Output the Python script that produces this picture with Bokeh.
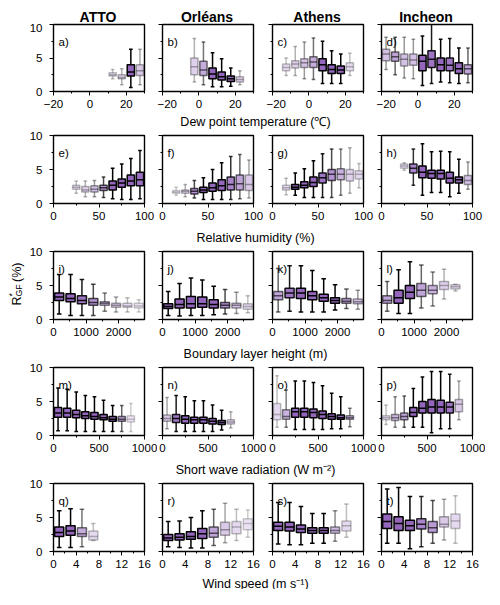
import numpy as np
from bokeh.plotting import figure
from bokeh.models import ColumnDataSource, Range1d, FixedTicker, Label
from bokeh.layouts import column, row
from bokeh.embed import file_html
from bokeh.resources import INLINE

STATIONS = ["ATTO", "Orléans", "Athens", "Incheon"]
XTITLES = ["Dew point temperature (\u2103)", "Relative humidity (%)",
           "Boundary layer height (m)", "Short wave radiation (W m\u207b\u00b2)",
           "Wind speed (m s\u207b\u00b9)"]
ROW_XRANGE = [(-20, 30), (0, 100), (0, 2800), (0, 1000), (0, 16)]
ROW_BIN = [5, 10, 350, 100, 2]
ROW_TICKS = [[-20, 0, 20], [0, 50, 100], [0, 1000, 2000], [0, 500, 1000], [0, 4, 8, 12, 16]]
ROW_MINOR = [[-10, 10, 30], [25, 75], [500, 1500, 2500], [250, 750], [2, 6, 10, 14]]
Y_TICKS = [0, 5, 10]
Y_MINOR = [2.5, 7.5]

# ---- Row 1: dew point temperature ----
a_x = [12.5, 17.5, 22.5, 27.5]
a_lo = [1.9, 1.0, 0.6, 1.0]
a_q1 = [2.3, 1.9, 2.3, 2.4]
a_med = [2.5, 2.1, 2.9, 3.1]
a_q3 = [2.8, 2.5, 4.0, 4.0]
a_hi = [3.3, 3.4, 6.3, 6.3]
a_alpha = [0.25, 0.3, 1.0, 0.35]

b_x = [-2.5, 2.5, 7.5, 12.5, 17.5, 22.5]
b_lo = [1.4, 1.0, 0.7, 0.7, 0.8, 1.0]
b_q1 = [2.5, 2.4, 1.9, 1.7, 1.5, 1.4]
b_med = [3.7, 3.2, 2.6, 2.2, 1.9, 1.8]
b_q3 = [5.0, 4.5, 3.5, 2.9, 2.3, 2.2]
b_hi = [7.9, 7.4, 5.8, 4.9, 3.5, 3.1]
b_alpha = [0.3, 0.55, 1.0, 1.0, 1.0, 0.3]

c_x = [-12.5, -7.5, -2.5, 2.5, 7.5, 12.5, 17.5, 22.5]
c_lo = [2.4, 2.4, 1.9, 1.8, 1.2, 1.2, 1.2, 2.4]
c_q1 = [3.1, 3.5, 3.6, 3.6, 3.1, 2.7, 2.7, 3.1]
c_med = [3.6, 4.1, 4.3, 4.4, 4.0, 3.3, 3.2, 3.7]
c_q3 = [4.1, 4.6, 4.9, 5.2, 4.9, 4.0, 3.8, 4.3]
c_hi = [5.0, 6.7, 7.4, 8.0, 7.5, 6.1, 5.6, 5.7]
c_alpha = [0.25, 0.3, 0.4, 0.55, 1.0, 1.0, 1.0, 0.25]

d_x = [-17.5, -12.5, -7.5, -2.5, 2.5, 7.5, 12.5, 17.5, 22.5, 27.5]
d_lo = [3.3, 2.5, 2.0, 1.9, 0.9, 1.2, 1.4, 1.3, 1.2, 1.3]
d_q1 = [4.6, 4.5, 3.8, 3.9, 3.1, 3.6, 3.1, 3.1, 2.7, 2.6]
d_med = [5.6, 5.2, 4.8, 4.7, 4.5, 4.8, 4.0, 3.9, 3.4, 3.4]
d_q3 = [6.3, 5.9, 5.6, 5.6, 5.4, 6.1, 5.0, 5.0, 4.3, 4.0]
d_hi = [8.1, 8.1, 8.1, 7.8, 8.3, 10.5, 7.8, 7.9, 6.5, 6.5]
d_alpha = [0.4, 0.6, 0.4, 0.4, 1.0, 0.9, 1.0, 0.9, 1.0, 0.6]

# ---- Row 2: relative humidity ----
e_x = [25, 35, 45, 55, 65, 75, 85, 95]
e_lo = [1.5, 1.0, 1.0, 0.9, 0.7, 0.6, 0.6, 0.7]
e_q1 = [2.1, 1.7, 1.7, 1.9, 2.0, 2.4, 2.6, 2.6]
e_med = [2.4, 2.0, 2.1, 2.3, 2.7, 3.0, 3.3, 3.5]
e_q3 = [2.7, 2.5, 2.6, 2.7, 3.3, 3.6, 4.2, 4.6]
e_hi = [3.3, 3.3, 3.4, 3.9, 5.2, 5.8, 6.6, 7.8]
e_alpha = [0.25, 0.3, 0.4, 0.7, 1.0, 1.0, 1.0, 0.95]

f_x = [15, 25, 35, 45, 55, 65, 75, 85, 95]
f_lo = [1.2, 1.0, 0.8, 0.6, 0.6, 0.6, 0.6, 0.7, 0.8]
f_q1 = [1.5, 1.5, 1.4, 1.6, 1.8, 1.9, 2.0, 2.0, 1.9]
f_med = [1.7, 1.8, 1.8, 2.0, 2.3, 2.6, 2.8, 2.9, 2.8]
f_q3 = [1.9, 2.0, 2.2, 2.4, 3.0, 3.5, 3.9, 4.2, 4.2]
f_hi = [2.4, 2.8, 3.4, 3.8, 5.0, 6.0, 6.9, 7.2, 6.4]
f_alpha = [0.2, 0.3, 0.7, 1.0, 1.0, 1.0, 0.8, 0.6, 0.35]

g_x = [15, 25, 35, 45, 55, 65, 75, 85, 95]
g_lo = [1.3, 1.2, 0.9, 0.9, 0.9, 0.9, 1.2, 1.5, 2.3]
g_q1 = [2.0, 2.1, 2.3, 2.5, 3.0, 3.4, 3.5, 3.3, 3.6]
g_med = [2.3, 2.4, 2.7, 3.1, 3.8, 4.3, 4.3, 4.3, 4.3]
g_q3 = [2.7, 2.8, 3.2, 3.9, 4.5, 5.0, 5.1, 5.0, 4.8]
g_hi = [3.7, 4.5, 5.1, 6.3, 7.3, 8.0, 8.0, 8.2, 5.9]
g_alpha = [0.25, 1.0, 1.0, 1.0, 0.9, 0.7, 0.5, 0.3, 0.25]

h_x = [25, 35, 45, 55, 65, 75, 85, 95]
h_lo = [4.9, 2.7, 1.2, 1.6, 1.6, 1.0, 1.5, 2.1]
h_q1 = [5.2, 4.5, 3.8, 3.7, 3.6, 3.0, 3.0, 2.8]
h_med = [5.5, 5.2, 4.6, 4.4, 4.4, 3.7, 3.5, 3.4]
h_q3 = [5.8, 5.8, 5.5, 4.9, 4.9, 4.6, 3.9, 4.1]
h_hi = [6.0, 8.0, 8.8, 7.6, 7.7, 7.6, 6.5, 6.1]
h_alpha = [0.25, 0.8, 1.0, 1.0, 1.0, 1.0, 1.0, 0.4]

# ---- Row 3: boundary layer height ----
i_x = [175, 525, 875, 1225, 1575, 1925, 2275, 2625]
i_lo = [0.8, 0.6, 0.6, 0.6, 1.2, 1.1, 1.1, 1.1]
i_q1 = [2.8, 2.6, 2.3, 2.1, 2.1, 1.8, 1.8, 1.7]
i_med = [3.3, 3.1, 2.8, 2.5, 2.4, 2.1, 2.0, 2.0]
i_q3 = [3.9, 3.8, 3.5, 3.1, 2.6, 2.4, 2.4, 2.4]
i_hi = [6.6, 6.6, 5.9, 5.2, 3.9, 3.3, 3.2, 2.9]
i_alpha = [1.0, 1.0, 0.9, 0.7, 0.5, 0.35, 0.25, 0.2]

j_x = [175, 525, 875, 1225, 1575, 1925, 2275, 2625]
j_lo = [0.6, 0.5, 0.6, 0.6, 0.7, 0.8, 0.9, 1.0]
j_q1 = [1.6, 1.7, 1.7, 1.8, 1.7, 1.7, 1.7, 1.5]
j_med = [1.9, 2.2, 2.3, 2.3, 2.2, 2.1, 2.1, 1.9]
j_q3 = [2.3, 3.0, 3.4, 3.3, 2.9, 2.5, 2.4, 2.3]
j_hi = [4.1, 5.3, 6.1, 5.8, 4.9, 4.4, 4.0, 3.5]
j_alpha = [1.0, 1.0, 1.0, 1.0, 1.0, 0.7, 0.4, 0.25]

k_x = [175, 525, 875, 1225, 1575, 1925, 2275, 2625]
k_lo = [1.1, 1.2, 1.1, 1.1, 1.1, 1.4, 1.6, 1.5]
k_q1 = [2.9, 3.2, 3.1, 2.9, 2.7, 2.4, 2.4, 2.3]
k_med = [3.5, 3.9, 3.9, 3.5, 3.2, 2.8, 2.7, 2.6]
k_q3 = [4.1, 4.6, 4.6, 4.1, 3.7, 3.2, 3.1, 3.0]
k_hi = [7.5, 7.9, 7.9, 7.2, 6.0, 5.1, 4.5, 4.3]
k_alpha = [0.6, 0.9, 1.0, 1.0, 1.0, 1.0, 0.6, 0.4]

l_x = [175, 525, 875, 1225, 1575, 1925, 2275]
l_lo = [1.2, 0.9, 0.9, 1.7, 2.0, 3.0, 4.2]
l_q1 = [2.4, 2.4, 3.1, 3.4, 3.8, 4.4, 4.5]
l_med = [2.8, 3.2, 4.0, 4.3, 4.3, 5.0, 4.8]
l_q3 = [3.5, 4.3, 5.0, 5.3, 5.0, 5.6, 5.1]
l_hi = [5.6, 7.3, 8.5, 8.0, 7.0, 7.4, 5.2]
l_alpha = [0.6, 1.0, 1.0, 0.6, 0.5, 0.3, 0.25]

# ---- Row 4: short wave radiation ----
m_x = [50, 150, 250, 350, 450, 550, 650, 750, 850]
m_lo = [0.7, 0.7, 0.6, 0.6, 0.6, 0.6, 0.6, 0.6, 0.6]
m_q1 = [2.7, 2.7, 2.6, 2.5, 2.4, 2.3, 2.1, 2.1, 2.0]
m_med = [3.3, 3.3, 3.1, 2.9, 2.8, 2.6, 2.4, 2.4, 2.4]
m_q3 = [4.1, 4.0, 3.7, 3.5, 3.4, 3.1, 2.8, 2.8, 2.9]
m_hi = [7.0, 6.8, 6.4, 5.9, 5.7, 5.2, 4.4, 4.4, 4.7]
m_alpha = [1.0, 1.0, 1.0, 1.0, 1.0, 1.0, 1.0, 0.6, 0.2]

n_x = [50, 150, 250, 350, 450, 550, 650, 750]
n_lo = [1.0, 0.6, 0.6, 0.6, 0.6, 0.6, 0.8, 1.1]
n_q1 = [2.1, 1.9, 1.8, 1.8, 1.8, 1.7, 1.6, 1.7]
n_med = [2.5, 2.5, 2.4, 2.3, 2.3, 2.1, 1.9, 2.0]
n_q3 = [3.0, 3.1, 2.9, 2.7, 2.7, 2.5, 2.2, 2.3]
n_hi = [5.6, 5.9, 5.7, 5.1, 5.1, 4.5, 3.7, 3.5]
n_alpha = [0.35, 0.9, 1.0, 1.0, 1.0, 1.0, 1.0, 0.3]

o_x = [50, 150, 250, 350, 450, 550, 650, 750, 850]
o_lo = [1.2, 1.2, 0.9, 0.9, 0.9, 0.9, 1.0, 1.0, 1.3]
o_q1 = [2.3, 2.4, 2.7, 2.7, 2.6, 2.5, 2.4, 2.4, 2.4]
o_med = [3.1, 2.8, 3.5, 3.5, 3.4, 3.1, 2.8, 2.6, 2.6]
o_q3 = [4.7, 3.8, 4.0, 4.0, 3.9, 3.6, 3.2, 3.0, 2.9]
o_hi = [8.8, 6.7, 8.0, 8.0, 7.8, 7.3, 6.2, 5.7, 4.0]
o_alpha = [0.25, 0.5, 1.0, 1.0, 1.0, 1.0, 1.0, 1.0, 0.5]

p_x = [50, 150, 250, 350, 450, 550, 650, 750, 850]
p_lo = [1.6, 1.2, 1.2, 1.2, 1.2, 0.4, 1.0, 1.0, 2.3]
p_q1 = [2.3, 2.2, 2.3, 2.8, 3.3, 3.3, 3.3, 3.3, 3.5]
p_med = [2.6, 2.6, 2.8, 3.4, 4.0, 4.2, 4.2, 4.2, 4.6]
p_q3 = [2.9, 3.1, 3.3, 4.1, 5.0, 5.3, 5.2, 4.9, 5.3]
p_hi = [4.5, 5.7, 5.8, 6.9, 8.6, 9.4, 9.4, 9.0, 8.0]
p_alpha = [0.25, 0.45, 0.6, 1.0, 1.0, 1.0, 1.0, 0.9, 0.35]

# ---- Row 5: wind speed ----
q_x = [1, 3, 5, 7]
q_lo = [0.6, 0.6, 0.7, 1.6]
q_q1 = [2.2, 2.4, 2.2, 1.7]
q_med = [2.8, 3.0, 2.6, 2.2]
q_q3 = [3.6, 3.8, 3.5, 3.0]
q_hi = [6.0, 6.3, 6.2, 4.1]
q_alpha = [1.0, 1.0, 0.55, 0.25]

r_x = [1, 3, 5, 7, 9, 11, 13, 15]
r_lo = [0.7, 0.6, 0.5, 0.5, 0.9, 1.3, 1.6, 2.1]
r_q1 = [1.6, 1.7, 1.8, 1.9, 2.1, 2.4, 2.6, 3.2]
r_med = [2.0, 2.1, 2.2, 2.6, 2.7, 3.2, 3.6, 4.1]
r_q3 = [2.5, 2.6, 2.9, 3.4, 3.6, 4.3, 4.4, 4.8]
r_hi = [4.4, 4.5, 5.0, 6.0, 6.2, 7.1, 6.2, 6.1]
r_alpha = [1.0, 1.0, 1.0, 1.0, 0.6, 0.35, 0.25, 0.2]

s_x = [1, 3, 5, 7, 9, 11, 13]
s_lo = [1.1, 1.0, 1.0, 1.2, 1.2, 1.5, 2.1]
s_q1 = [3.1, 3.0, 2.8, 2.7, 2.7, 2.7, 3.0]
s_med = [3.7, 3.6, 3.3, 3.1, 3.1, 3.1, 3.8]
s_q3 = [4.3, 4.3, 3.9, 3.5, 3.5, 3.6, 4.5]
s_hi = [7.2, 7.2, 6.6, 5.6, 5.6, 6.0, 7.0]
s_alpha = [1.0, 1.0, 1.0, 1.0, 1.0, 0.45, 0.25]

t_x = [1, 3, 5, 7, 9, 11, 13]
t_lo = [1.2, 1.2, 0.4, 0.7, 1.2, 1.7, 1.2]
t_q1 = [3.4, 3.1, 3.1, 3.3, 2.8, 3.6, 3.4]
t_med = [4.4, 4.1, 3.8, 4.0, 3.5, 4.0, 4.5]
t_q3 = [5.5, 5.1, 4.6, 4.8, 4.4, 5.1, 5.5]
t_hi = [9.2, 9.4, 8.1, 8.1, 7.5, 7.7, 8.2]
t_alpha = [1.0, 1.0, 1.0, 0.8, 0.65, 0.35, 0.25]

PANELS = [
    [("a", a_x, a_lo, a_q1, a_med, a_q3, a_hi, a_alpha),
     ("b", b_x, b_lo, b_q1, b_med, b_q3, b_hi, b_alpha),
     ("c", c_x, c_lo, c_q1, c_med, c_q3, c_hi, c_alpha),
     ("d", d_x, d_lo, d_q1, d_med, d_q3, d_hi, d_alpha)],
    [("e", e_x, e_lo, e_q1, e_med, e_q3, e_hi, e_alpha),
     ("f", f_x, f_lo, f_q1, f_med, f_q3, f_hi, f_alpha),
     ("g", g_x, g_lo, g_q1, g_med, g_q3, g_hi, g_alpha),
     ("h", h_x, h_lo, h_q1, h_med, h_q3, h_hi, h_alpha)],
    [("i", i_x, i_lo, i_q1, i_med, i_q3, i_hi, i_alpha),
     ("j", j_x, j_lo, j_q1, j_med, j_q3, j_hi, j_alpha),
     ("k", k_x, k_lo, k_q1, k_med, k_q3, k_hi, k_alpha),
     ("l", l_x, l_lo, l_q1, l_med, l_q3, l_hi, l_alpha)],
    [("m", m_x, m_lo, m_q1, m_med, m_q3, m_hi, m_alpha),
     ("n", n_x, n_lo, n_q1, n_med, n_q3, n_hi, n_alpha),
     ("o", o_x, o_lo, o_q1, o_med, o_q3, o_hi, o_alpha),
     ("p", p_x, p_lo, p_q1, p_med, p_q3, p_hi, p_alpha)],
    [("q", q_x, q_lo, q_q1, q_med, q_q3, q_hi, q_alpha),
     ("r", r_x, r_lo, r_q1, r_med, r_q3, r_hi, r_alpha),
     ("s", s_x, s_lo, s_q1, s_med, s_q3, s_hi, s_alpha),
     ("t", t_x, t_lo, t_q1, t_med, t_q3, t_hi, t_alpha)],
]

PURPLE = "#9467bd"
FONT = "Liberation Sans"
TICK_FS = "11.5px"
TITLE_FS = "12.5px"
FRAME_W = 91
ROW_FRAME_H = [67, 68, 68, 68, 68]
ROW_TOP = [1, 6, 6, 6, 6]
BOTTOM_B = 22
STRIP_H = [16, 20, 20, 20, 16]
STRIP_Y = [8, 8, 8, 8, 6]
LEFT_W = 26
COL_BORDERS = [(26, 13), (5, 13), (6, 13), (5, 13)]
GRID_W = 458
HEADER_H = 23
TOTAL_H = HEADER_H + sum(ROW_TOP) + sum(ROW_FRAME_H) + 5 * BOTTOM_B + sum(STRIP_H)


def make_panel(r, c, tag, xs, lo, q1, med, q3, hi, alpha):
    bl, br = COL_BORDERS[c]
    fh = ROW_FRAME_H[r]
    p = figure(frame_width=FRAME_W, frame_height=fh,
               x_range=Range1d(*ROW_XRANGE[r]), y_range=Range1d(0, 10),
               toolbar_location=None, tools="", output_backend="svg",
               min_border_left=bl, min_border_right=br,
               min_border_top=ROW_TOP[r], min_border_bottom=BOTTOM_B)
    p.grid.visible = False
    p.outline_line_color = "black"
    p.outline_line_width = 1.4
    p.outline_line_alpha = 1.0

    xa = p.xaxis[0]
    xa.ticker = FixedTicker(ticks=ROW_TICKS[r], minor_ticks=ROW_MINOR[r])
    xa.major_label_overrides = {t: (("\u2212" + str(-t)) if t < 0 else str(t)) for t in ROW_TICKS[r]}
    ya = p.yaxis[0]
    ya.ticker = FixedTicker(ticks=Y_TICKS, minor_ticks=Y_MINOR)
    for ax in (xa, ya):
        ax.axis_line_color = None
        ax.major_tick_out = 4
        ax.major_tick_in = 0
        ax.minor_tick_out = 2
        ax.minor_tick_in = 0
        ax.major_tick_line_color = "black"
        ax.minor_tick_line_color = "black"
        ax.major_label_text_font = FONT
        ax.major_label_text_font_size = TICK_FS
        ax.major_label_text_color = "black"
    xa.major_label_standoff = 4
    if c == 0:
        ya.major_label_standoff = 7
    else:
        ya.major_label_overrides = {t: "" for t in Y_TICKS}
        ya.major_label_standoff = 0

    bw = 0.8 * ROW_BIN[r]
    cw = 0.5 * bw
    x = np.array(xs, dtype=float)
    src = ColumnDataSource(dict(
        x=x, lo=lo, q1=q1, med=med, q3=q3, hi=hi, alpha=alpha,
        cl=x - cw / 2, cr=x + cw / 2, ml=x - bw / 2, mr=x + bw / 2))
    lw = 1.5
    kw = dict(source=src, line_color="black", line_alpha="alpha", line_width=lw)
    p.segment(x0="x", y0="lo", x1="x", y1="q1", **kw)
    p.segment(x0="x", y0="q3", x1="x", y1="hi", **kw)
    p.segment(x0="cl", y0="lo", x1="cr", y1="lo", **kw)
    p.segment(x0="cl", y0="hi", x1="cr", y1="hi", **kw)
    p.vbar(x="x", width=bw, bottom="q1", top="q3",
           fill_color=PURPLE, fill_alpha="alpha", **kw)
    p.segment(x0="ml", y0="med", x1="mr", y1="med", **kw)

    p.add_layout(Label(x=5, y=fh - 17, x_units="screen", y_units="screen",
                       text=tag + ")", text_font=FONT, text_font_size=TICK_FS,
                       text_color="black", text_baseline="alphabetic", level="underlay"))
    return p


def make_strip(text, h, y):
    s = figure(width=GRID_W, height=h, toolbar_location=None, tools="",
               output_backend="svg", x_axis_type=None, y_axis_type=None,
               min_border=0, outline_line_color=None,
               x_range=Range1d(0, 1), y_range=Range1d(0, 1))
    s.grid.visible = False
    s.add_layout(Label(x=229, y=y, x_units="screen", y_units="screen", text=text,
                       text_align="center", text_baseline="middle", text_font=FONT,
                       text_font_size=TITLE_FS, text_color="black"))
    return s


def make_header():
    s = figure(width=GRID_W, height=HEADER_H, toolbar_location=None, tools="",
               output_backend="svg", x_axis_type=None, y_axis_type=None,
               min_border=0, outline_line_color=None,
               x_range=Range1d(0, 1), y_range=Range1d(0, 1))
    s.grid.visible = False
    left = 0
    for c in range(4):
        bl, br = COL_BORDERS[c]
        s.add_layout(Label(x=left + bl + FRAME_W / 2, y=7, x_units="screen", y_units="screen",
                           text=STATIONS[c], text_font=FONT, text_font_size="14px",
                           text_font_style="bold", text_align="center",
                           text_baseline="alphabetic", text_color="black"))
        left += bl + FRAME_W + br
    return s


def make_ylabel():
    s = figure(width=LEFT_W, height=TOTAL_H, toolbar_location=None, tools="",
               output_backend="svg", x_axis_type=None, y_axis_type=None,
               min_border=0, outline_line_color=None,
               x_range=Range1d(0, 1), y_range=Range1d(0, 1))
    s.grid.visible = False
    parts = [("R", 16, 284, "12.5px"), ("GF", 18.5, 293, "8.75px"),
             ("*", 11, 293, "8.75px"), (" (%)", 16, 307.5, "12.5px")]
    for txt, sx, sy, fs in parts:
        s.add_layout(Label(x=sx, y=sy, x_units="screen", y_units="screen",
                           text=txt, angle=np.pi / 2, text_font=FONT,
                           text_font_size=fs, text_align="left",
                           text_baseline="alphabetic", text_color="black"))
    return s


items = [make_header()]
for r in range(5):
    figs = [make_panel(r, c, *PANELS[r][c]) for c in range(4)]
    items.append(row(*figs))
    items.append(make_strip(XTITLES[r], STRIP_H[r], STRIP_Y[r]))

layout = row(make_ylabel(), column(*items))
open("out.html", "w").write(file_html(layout, INLINE))
